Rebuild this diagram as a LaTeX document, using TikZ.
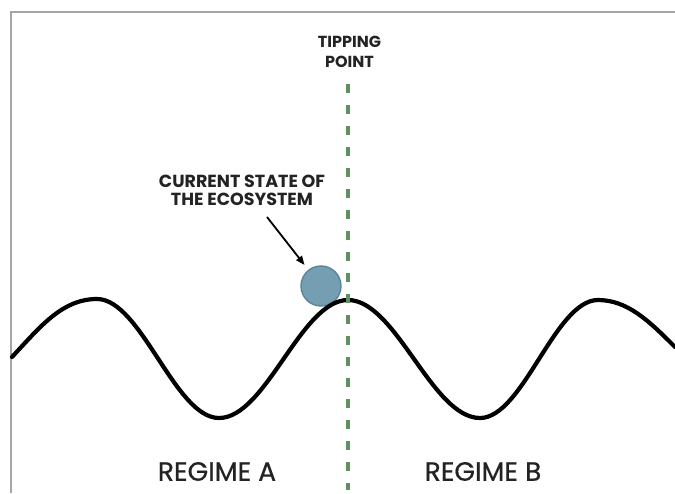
\documentclass[tikz,border=0pt]{standalone}
\usepackage{fontspec}
\setmainfont{Poppins}
\newfontfamily\regimefont{Poppins}[FakeBold=0.6]
\usetikzlibrary{arrows.meta}
\definecolor{framegray}{RGB}{165,165,165}
\definecolor{tipgreen}{RGB}{95,145,95}
\definecolor{ballfill}{RGB}{118,158,178}
\definecolor{balledge}{RGB}{92,132,152}
\definecolor{txt}{RGB}{35,35,35}
\tikzset{
  lbl/.style={text=txt, font=\bfseries\fontsize{17.5}{18}\selectfont, align=center, inner sep=0pt},
  tiplbl/.style={text=txt, font=\bfseries\fontsize{16}{19.5}\selectfont, align=center, inner sep=0pt},
  regime/.style={text=txt, font=\regimefont\fontsize{26.5}{28}\selectfont, inner sep=0pt},
  landscape/.style={line width=4.2pt, black, line cap=round},
  tipline/.style={tipgreen, line width=3.6pt, dash pattern=on 9pt off 12pt},
  ballstyle/.style={circle, minimum size=40pt, inner sep=0pt, fill=ballfill, draw=balledge, line width=1.4pt},
  pointer/.style={line width=1.8pt, -{Triangle[length=9pt,width=7pt]}}
}
\begin{document}
\begin{tikzpicture}[x=1pt,y=-1pt]
\useasboundingbox (0,0) rectangle (675,493);
\fill[white] (0,0) rectangle (675,493);
% frame
\draw[framegray, line width=1.2pt] (11,493) -- (11,12) -- (675,12);
% ball
\node[ballstyle] (ball) at (321,286) {};
% landscape curve
\draw[landscape] (12,357) .. controls (40,327) and (62,299) .. (97,299)
  .. controls (141,299) and (175,418) .. (219,418)
  .. controls (266,418) and (301,300) .. (348,300)
  .. controls (396,300) and (432,418) .. (480,418)
  .. controls (523,418) and (555,300) .. (598,300)
  .. controls (628,300) and (650,322) .. (675,347);
% tipping line
\coordinate (tiptop) at (348,84);
\coordinate (tipbot) at (348,490);
\draw[tipline] (tiptop) -- (tipbot);
% labels
\node[tiplbl] (tipping) at (349.5,52) {TIPPING\\POINT};
\node[lbl] (state) at (242,190) {CURRENT STATE OF\\THE ECOSYSTEM};
\node[regime] (rega) at (217,471.5) {REGIME A};
\node[regime] (regb) at (483,471.5) {REGIME B};
% pointer
\coordinate (ptrstart) at (267,217);
\draw[pointer, shorten >=6pt] (ptrstart) -- (ball);
\end{tikzpicture}
\end{document}
